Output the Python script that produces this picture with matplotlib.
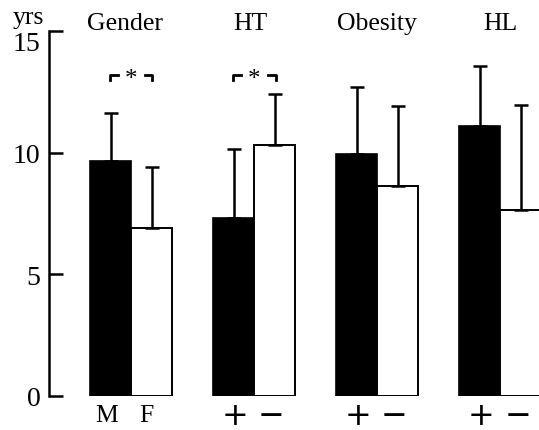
import matplotlib
matplotlib.use("Agg")
import matplotlib.pyplot as plt

groups = ["Gender", "HT", "Obesity", "HL"]
pos_labels = ["M", "+", "+", "+"]
neg_labels = ["F", "\u2212", "\u2212", "\u2212"]
pos_means = [9.65, 7.3, 9.95, 11.1]
pos_sd = [2.0, 2.85, 2.75, 2.45]
neg_means = [6.9, 10.32, 8.65, 7.65]
neg_sd = [2.5, 2.1, 3.25, 4.3]
sig_groups = [0, 1]
sig_level = 13.2

plt.rcParams['font.family'] = ['Liberation Serif', 'DejaVu Serif']

fig = plt.figure(figsize=(5.39, 4.31), dpi=100)
ax = fig.add_axes([49/539, 34/431, 1 - 49/539, (397-32)/431])

xp = [3*i for i in range(len(groups))]
xn = [3*i + 1 for i in range(len(groups))]

ax.bar(xp, pos_means, width=1.0, color='black', edgecolor='black', linewidth=1.2, zorder=2)
ax.bar(xn, neg_means, width=1.0, color='white', edgecolor='black', linewidth=1.4, zorder=2)
ax.errorbar(xp, pos_means, yerr=[[0]*len(pos_sd), pos_sd], fmt='none', ecolor='black',
            elinewidth=1.8, capsize=5, capthick=1.8, zorder=3)
ax.errorbar(xn, neg_means, yerr=[[0]*len(neg_sd), neg_sd], fmt='none', ecolor='black',
            elinewidth=1.8, capsize=5, capthick=1.8, zorder=3)

ax.set_xlim(-1.5, 10.44)
ax.set_ylim(0, 15)
ax.set_yticks([0, 5, 10, 15])
ax.tick_params(axis='y', direction='in', length=10, width=1.8, labelsize=20, pad=6)
labs = ax.get_yticklabels()
labs[-1].set_va('top')
for s in ['top', 'right', 'bottom']:
    ax.spines[s].set_visible(False)
ax.spines['left'].set_linewidth(1.8)
ax.set_xticks([])

# group titles
for i, g in enumerate(groups):
    xc = 3*i + 0.5
    if i == 0:
        xc -= 0.15
    elif i == 1:
        xc -= 0.1
    ax.text(xc, 15.08, g, ha='center', va='baseline', fontsize=18.5, clip_on=False)

# bottom labels
for i in range(len(groups)):
    if i == 0:
        ax.text(xp[i] - 0.1, -0.8, pos_labels[i], ha='center', va='center', fontsize=18.5)
        ax.text(xn[i] - 0.12, -0.8, neg_labels[i], ha='center', va='center', fontsize=18.5)
    else:
        ax.text(xp[i] + 0.03, -0.8, pos_labels[i], ha='center', va='center', fontsize=23,
                family=['DejaVu Sans'])
        ax.text(xn[i] - 0.08, -0.8, neg_labels[i], ha='center', va='center', fontsize=23,
                family=['DejaVu Sans'])

# significance brackets
for gi in sig_groups:
    x0 = xp[gi] - 0.02
    x1 = xn[gi] + 0.02
    d = 0.2
    seg = 0.19
    ax.plot([x0, x0, x0 + seg], [sig_level - d, sig_level, sig_level], color='black',
            lw=2.0, clip_on=False)
    ax.plot([x1 - seg, x1, x1], [sig_level, sig_level, sig_level - d], color='black',
            lw=2.0, clip_on=False)
    ax.text((x0 + x1)/2, sig_level - 0.19, '*', ha='center', va='center', fontsize=18)

fig.text(13/539, 1 - 7/431, 'yrs', ha='left', va='top', fontsize=18.5)

fig.savefig('out.png', dpi=100)
